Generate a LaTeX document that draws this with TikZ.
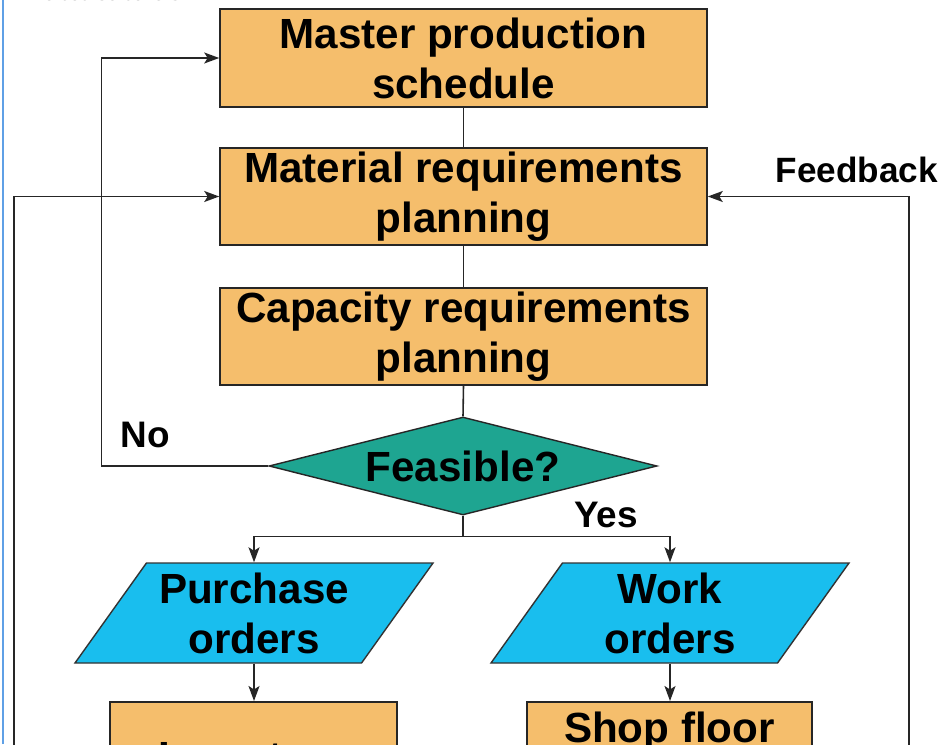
\documentclass[tikz,border=0pt]{standalone}
\usepackage{fontspec}
\setmainfont{Liberation Sans}
\usetikzlibrary{shapes.geometric,arrows.meta}

\definecolor{boxtan}{RGB}{245,190,108}
\definecolor{decisionteal}{RGB}{30,165,145}
\definecolor{ordercyan}{RGB}{25,190,238}
\definecolor{edgeblue}{RGB}{95,160,230}

\begin{document}
\begin{tikzpicture}[
    procbox/.style={rectangle, fill=boxtan, draw=black!85, line width=0.9pt, minimum width=9.74cm, minimum height=1.96cm, align=center, inner sep=0pt, font=\fontsize{24}{28.5}\selectfont\bfseries},
    decision/.style={diamond, aspect=4, fill=decisionteal, draw=black!85, line width=0.8pt, minimum width=7.76cm, minimum height=1.96cm, inner sep=0pt, font=\fontsize{24}{28.5}\selectfont\bfseries},
    orderbox/.style={trapezium, trapezium left angle=48.6, trapezium right angle=131.4, trapezium stretches body, fill=ordercyan, draw=black!80, line width=0.8pt, minimum width=7.16cm, minimum height=2cm, inner sep=0pt, align=center, font=\fontsize{24}{28.5}\selectfont\bfseries},
    lbl/.style={font=\fontsize{21}{25}\selectfont\bfseries},
    conn/.style={line width=0.9pt, draw=black!85},
    arr/.style={conn, -{Stealth[length=0.3cm, width=0.22cm, inset=0.07cm]}}
]
    % page frame
    \useasboundingbox (0,0) rectangle (19.02,14.88);
    \fill[white] (0,0) rectangle (19.02,14.88);
    \clip (0,0) rectangle (19.02,14.88);
    \draw[edgeblue, line width=1.2pt] (0.055,0) -- (0.055,14.88);

    % heading cut off at the top
    \node[anchor=base west, font=\fontsize{11}{13}\selectfont, text=black!75] (coursenote) at (0.3,14.86) {The course covers};

    % planning chain
    \node[procbox] (mps) at (9.27,13.72) {Master production\\schedule};
    \node[procbox, minimum height=1.94cm] (mrp) at (9.27,10.95) {Material requirements\\planning};
    \node[procbox, minimum height=1.94cm] (crp) at (9.27,8.15) {Capacity requirements\\planning};
    \node[decision] (feasible) at (9.26,5.56) {Feasible?};

    % orders
    \node[orderbox] (purchase) at (5.08,2.62) {Purchase\\orders};
    \node[orderbox] (work) at (13.40,2.62) {Work\\orders};

    % execution boxes (run off the bottom)
    \node[procbox, anchor=north, minimum width=5.74cm, text height=1.2cm, text depth=1.2cm, inner ysep=0.2cm] (inventory) at (5.07,0.86) {Inventory};
    \node[procbox, anchor=north, minimum width=5.70cm, text height=0.62cm, text depth=1.2cm, inner ysep=0.2cm] (shopfloor) at (13.39,0.86) {Shop floor};

    % connectors
    \draw[conn] (mps.south) -- (mrp.north);
    \draw[conn] (mrp.south) -- (crp.north);
    \draw[conn] (crp.south) -- (feasible.north);
    \coordinate (fork) at ([yshift=-0.42cm]feasible.south);
    \draw[conn] (feasible.south) -- (fork);
    \draw[arr] (fork) -| (purchase.north);
    \draw[arr] (fork) -| (work.north);
    \draw[arr] (purchase.south) -- (purchase.south |- inventory.north);
    \draw[arr] (work.south) -- (work.south |- shopfloor.north);

    % loops back
    \draw[arr] (feasible.west) -- ++(-3.34,0) |- (mps.west);
    \coordinate (invback) at (0.28,-0.6);
    \coordinate (shopback) at (18.18,-0.6);
    \draw[arr] (invback) |- (mrp.west);
    \draw[arr] (shopback) |- (mrp.east);

    % labels
    \node[lbl] (nolabel) at (2.9,6.18) {No};
    \node[lbl] (yeslabel) at (12.12,4.58) {Yes};
    \node[lbl, font=\fontsize{20}{24}\selectfont\bfseries] (fblabel) at (17.14,11.48) {Feedback};
\end{tikzpicture}
\end{document}
